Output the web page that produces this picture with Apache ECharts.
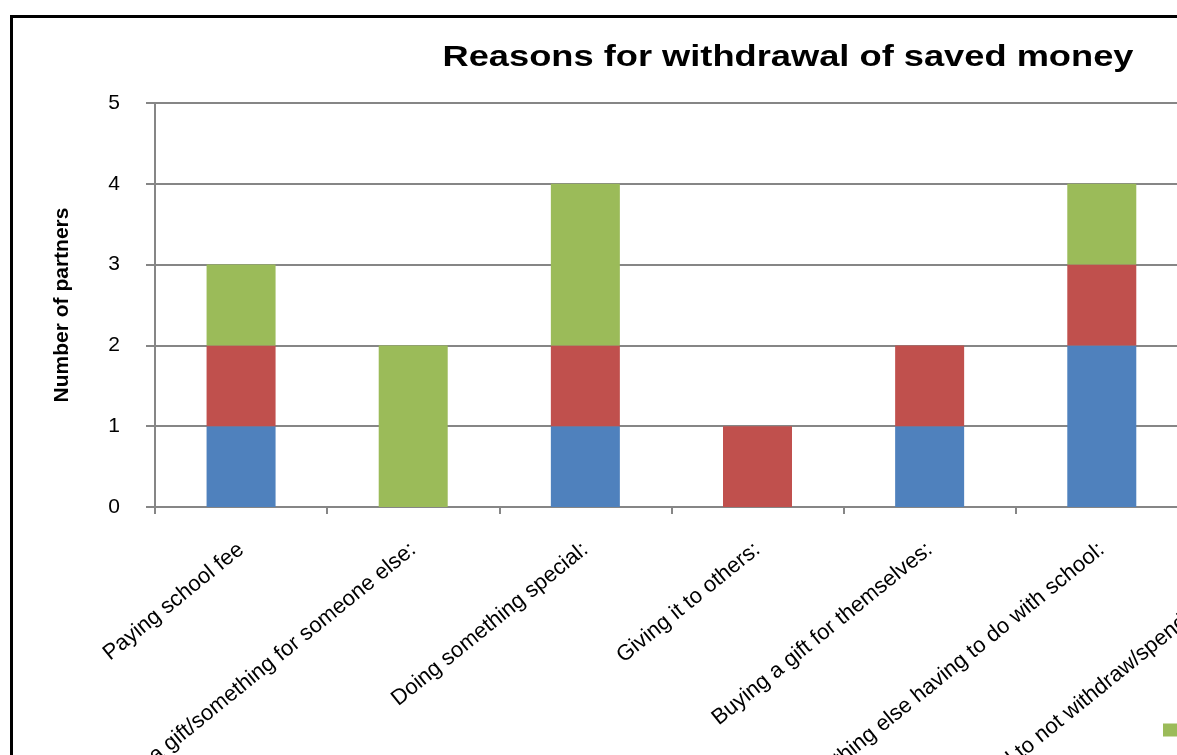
<!DOCTYPE html>
<html>
<head>
<meta charset="utf-8">
<script src="https://cdn.jsdelivr.net/npm/echarts@6/dist/echarts.min.js"></script>
<style>
  html, body { margin: 0; padding: 0; background: #fff; }
  #chart { width: 1177px; height: 755px; }
</style>
</head>
<body>
<div id="chart"></div>
<script>
// Reasons partners gave for withdrawing saved money (stacked counts)
const categories = [
  'Paying school fee',
  'Buying a gift/something for someone else:',
  'Doing something special:',
  'Giving it to others:',
  'Buying a gift for themselves:',
  'Buying something else having to do with school:',
  'Decided to not withdraw/spend the money:'
];
const seriesNames = ['Series1', 'Series2', 'Series3'];
const blueValues  = [1, 0, 1, 0, 1, 2, null];
const redValues   = [1, 0, 1, 1, 1, 1, null];
const greenValues = [1, 2, 2, 0, 0, 1, null];
const yTicks = [0, 1, 2, 3, 4, 5];

const colors = ['#4F81BD', '#C0504D', '#9BBB59'];
const font = '"Liberation Sans", Arial, sans-serif';

const chart = echarts.init(document.getElementById('chart'));

function stackSeries(name, data, color) {
  return {
    name: name,
    type: 'bar',
    stack: 'total',
    data: data.map(v => (v === 0 ? null : v)),
    barWidth: 69,
    itemStyle: { color: color },
    emphasis: { disabled: true }
  };
}

chart.setOption({
  animation: false,
  backgroundColor: '#ffffff',
  textStyle: { fontFamily: font },
  graphic: [
    {
      type: 'rect',
      shape: { x: 11.5, y: 16.5, width: 2000, height: 2000 },
      style: { fill: 'none', stroke: '#000', lineWidth: 3 },
      z: 100
    },
    {
      type: 'text',
      x: 788,
      y: 58,
      scaleX: 1.25,
      style: {
        text: 'Reasons for withdrawal of saved money',
        fontFamily: font,
        fontWeight: 'bold',
        fontSize: 29,
        fill: '#000',
        align: 'center',
        verticalAlign: 'middle'
      }
    }
  ],
  legend: {
    orient: 'vertical',
    left: 1163,
    top: 722,
    padding: 0,
    itemWidth: 14,
    itemHeight: 13,
    itemGap: 40,
    icon: 'rect',
    data: [seriesNames[2], seriesNames[1], seriesNames[0]],
    textStyle: { fontFamily: font, fontSize: 16, color: '#000' }
  },
  grid: {
    left: 155,
    top: 103,
    width: 1205,
    height: 404,
    containLabel: false,
    outerBoundsMode: 'none'
  },
  xAxis: {
    type: 'category',
    data: categories,
    axisLine: { lineStyle: { color: '#868686', width: 2 } },
    axisTick: { show: true, length: 7, lineStyle: { color: '#868686', width: 2 } },
    axisLabel: {
      rotate: 39,
      interval: 0,
      margin: 40,
      fontSize: 22,
      fontFamily: font,
      color: '#000'
    }
  },
  yAxis: {
    type: 'value',
    min: yTicks[0],
    max: yTicks[yTicks.length - 1],
    interval: 1,
    name: 'Number of partners',
    nameLocation: 'middle',
    nameGap: 82,
    nameTextStyle: { fontFamily: font, fontWeight: 'bold', fontSize: 21, color: '#000' },
    axisLine: { show: true, lineStyle: { color: '#868686', width: 2 } },
    axisTick: { show: true, length: 9, lineStyle: { color: '#868686', width: 2 } },
    axisLabel: { margin: 35, fontSize: 21, fontFamily: font, color: '#000' },
    splitLine: { show: true, lineStyle: { color: '#868686', width: 2 } }
  },
  series: [
    stackSeries(seriesNames[0], blueValues, colors[0]),
    stackSeries(seriesNames[1], redValues, colors[1]),
    stackSeries(seriesNames[2], greenValues, colors[2])
  ]
});
</script>
</body>
</html>
